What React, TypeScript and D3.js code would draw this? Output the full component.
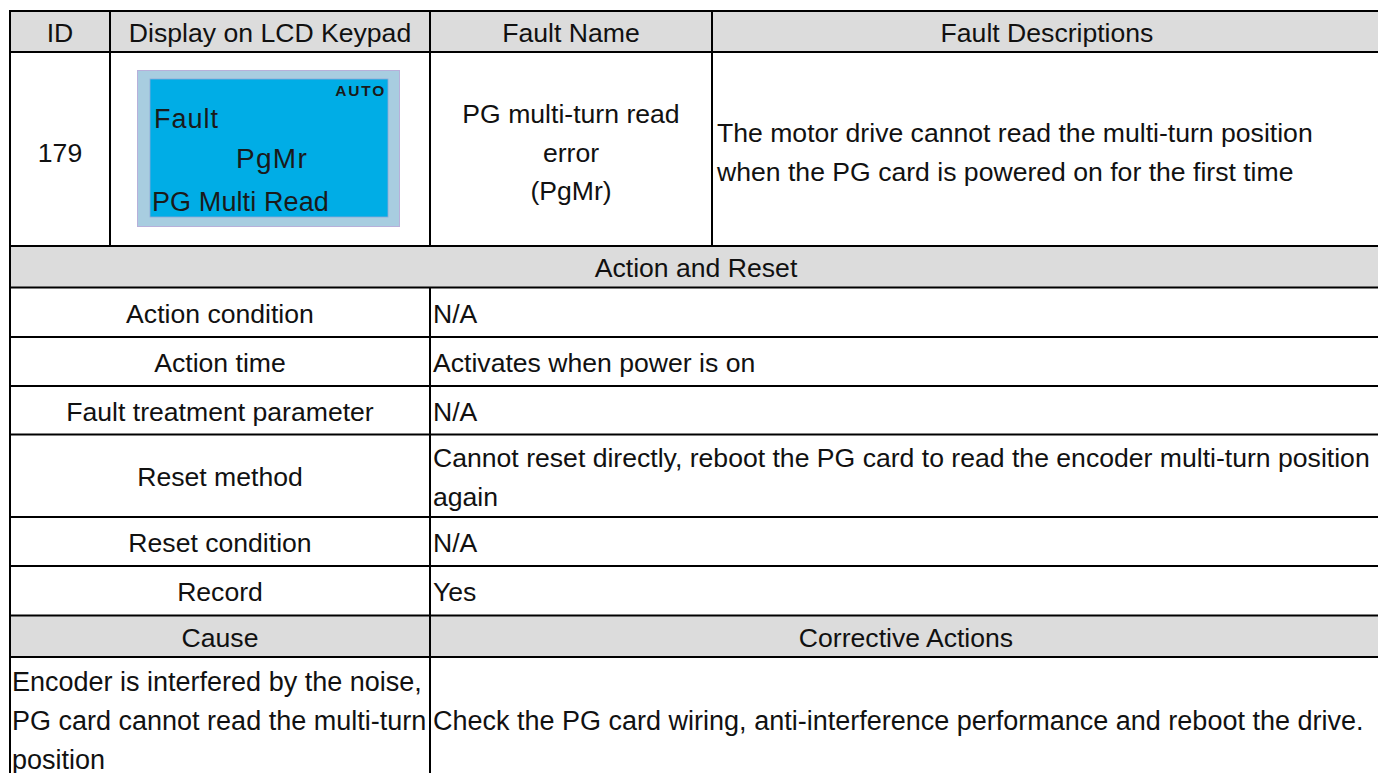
import React from "react";
import * as d3 from "d3";

// ---- content ----
const headerCols = ["ID", "Display on LCD Keypad", "Fault Name", "Fault Descriptions"];
const faultId = "179";
const lcdTag = "AUTO";
const lcdLines = ["Fault", "PgMr", "PG Multi Read"];
const faultNameLines = ["PG multi-turn read", "error", "(PgMr)"];
const descLines = [
  "The motor drive cannot read the multi-turn position",
  "when the PG card is powered on for the first time",
];
const sectionTitle = "Action and Reset";
const actionLabels = [
  "Action condition",
  "Action time",
  "Fault treatment parameter",
  "Reset method",
  "Reset condition",
  "Record",
];
const actionValues = [
  ["N/A"],
  ["Activates when power is on"],
  ["N/A"],
  ["Cannot reset directly, reboot the PG card to read the encoder multi-turn position", "again"],
  ["N/A"],
  ["Yes"],
];
const causeHeaders = ["Cause", "Corrective Actions"];
const causeLines = [
  "Encoder is interfered by the noise,",
  "PG card cannot read the multi-turn",
  "position",
];
const correctiveLines = ["Check the PG card wiring, anti-interference performance and reboot the drive."];

// ---- layout ----
const W = 1378;
const H = 773;
const top0 = 11;
const rowHeights = [41, 194, 41.5, 49.5, 49, 48.5, 82.5, 49, 49.5, 41.5, 125];
const edges = [top0, ...Array.from(d3.cumsum(rowHeights), (v) => top0 + v)];
const xL = 10, xR = 1382;
const topCols = [10, 110, 430, 712, 1382];
const midCol = 430;
const FS = 26.6;
const FS_BOTTOM = 27.0;
const LH = 38.5;
const FONT = "'Liberation Sans', Arial, Helvetica, sans-serif";
const GRAY = "#dcdcdc";

function lines(n: number, cy: number, lh = LH) {
  return d3.range(n).map((i) => cy + (i - (n - 1) / 2) * lh + 10.5);
}

export default function App() {
  const rc = (i: number) => (edges[i] + edges[i + 1]) / 2;
  const grayRows = [0, 2, 9];
  const hLines = edges;
  return (
    <div style={{ position: "absolute", left: 0, top: 0, width: W, height: H, overflow: "hidden", background: "#fff" }}>
      <svg width={W} height={H} style={{ display: "block" }} fontFamily={FONT} fontSize={FS} fill="#111">
        {grayRows.map((r) => (
          <rect key={r} x={xL} y={edges[r]} width={xR - xL} height={edges[r + 1] - edges[r]} fill={GRAY} />
        ))}

        {/* header */}
        {headerCols.map((t, i) => (
          <text key={t} x={(topCols[i] + topCols[i + 1]) / 2} y={rc(0) + 10.5} textAnchor="middle">{t}</text>
        ))}

        {/* fault row */}
        <text x={(topCols[0] + topCols[1]) / 2} y={lines(1, rc(1) + 2)[0]} textAnchor="middle">{faultId}</text>
        {lines(faultNameLines.length, rc(1) + 2).map((y, i) => (
          <text key={i} x={(topCols[2] + topCols[3]) / 2} y={y} textAnchor="middle">{faultNameLines[i]}</text>
        ))}
        {lines(descLines.length, rc(1) + 2).map((y, i) => (
          <text key={i} x={topCols[3] + 5} y={y}>{descLines[i]}</text>
        ))}

        {/* LCD */}
        <g>
          <rect x={137.5} y={70.5} width={262} height={156} fill="#a8cde0" stroke="#b7b0da" strokeWidth={1} />
          <rect x={150} y={79} width={238} height={138} fill="#00ade6" stroke="#8fa6d8" strokeWidth={0.8} />
          <text x={386} y={96} textAnchor="end" fontSize={15.5} fontWeight="bold" letterSpacing={1.8} fill="#1a1a1a">{lcdTag}</text>
          <text x={154} y={128} fontSize={27} letterSpacing={1} fill="#1a1a1a">{lcdLines[0]}</text>
          <text x={236} y={168} fontSize={28} letterSpacing={1.3} fill="#1a1a1a">{lcdLines[1]}</text>
          <text x={152} y={210.5} fontSize={27} letterSpacing={0.1} fill="#1a1a1a">{lcdLines[2]}</text>
        </g>

        {/* section title */}
        <text x={(xL + xR) / 2} y={rc(2) + 10.5} textAnchor="middle">{sectionTitle}</text>

        {/* action rows */}
        {actionLabels.map((lab, k) => {
          const r = 3 + k;
          const vals = actionValues[k];
          return (
            <g key={lab}>
              <text x={(xL + midCol) / 2} y={rc(r) + 10.5} textAnchor="middle">{lab}</text>
              {lines(vals.length, rc(r)).map((y, i) => (
                <text key={i} x={midCol + 3} y={y}>{vals[i]}</text>
              ))}
            </g>
          );
        })}

        {/* cause header */}
        <text x={(xL + midCol) / 2} y={rc(9) + 10.5} textAnchor="middle">{causeHeaders[0]}</text>
        <text x={(midCol + xR) / 2} y={rc(9) + 10.5} textAnchor="middle">{causeHeaders[1]}</text>

        {/* cause row */}
        <g fontSize={FS_BOTTOM}>
          {lines(causeLines.length, 719, 39).map((y, i) => (
            <text key={i} x={12} y={y}>{causeLines[i]}</text>
          ))}
          {lines(correctiveLines.length, 719, 39).map((y, i) => (
            <text key={i} x={midCol + 3} y={y}>{correctiveLines[i]}</text>
          ))}
        </g>

        {/* grid lines */}
        <g stroke="#000" strokeWidth={2}>
          {hLines.map((y, i) => (
            <line key={i} x1={xL - 1} x2={xR} y1={y} y2={y} />
          ))}
          {topCols.map((x, i) => (
            <line key={"t" + i} x1={x} x2={x} y1={edges[0]} y2={edges[2]} />
          ))}
          {[xL, xR].map((x, i) => (
            <line key={"o" + i} x1={x} x2={x} y1={edges[2]} y2={edges[11]} />
          ))}
          <line x1={midCol} x2={midCol} y1={edges[3]} y2={edges[9]} />
          <line x1={midCol} x2={midCol} y1={edges[9]} y2={edges[11]} />
        </g>
      </svg>
    </div>
  );
}
